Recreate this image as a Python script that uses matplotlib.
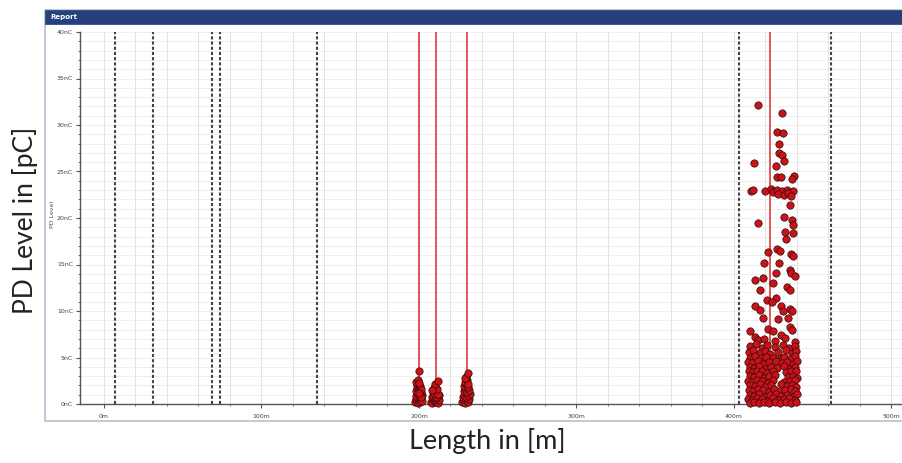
import matplotlib
matplotlib.use("Agg")
import matplotlib.pyplot as plt
from matplotlib.patches import Rectangle
from matplotlib.ticker import MultipleLocator, FixedLocator

# ---------------- data ----------------
x_ticks = [0, 100, 200, 300, 400, 500]
x_tick_labels = ["0m", "100m", "200m", "300m", "400m", "500m"]
y_ticks = [0, 5, 10, 15, 20, 25, 30, 35, 40]
y_tick_labels = ["0nC", "5nC", "10nC", "15nC", "20nC", "25nC", "30nC", "35nC", "40nC"]

joint_positions = [7, 31, 68.5, 73.5, 135, 403, 461.5]       # dashed black lines
pd_sources = [200.3, 210.6, 230.6, 423.2]                    # red solid lines

# cluster near 200 m
c1_x = [197.6, 198.3, 199.1, 200.0, 200.8, 201.6, 198.0, 199.4, 200.5, 201.9,
        197.9, 198.8, 199.8, 201.2, 202.2, 198.5, 199.6, 200.9, 201.5, 198.2,
        199.2, 200.3, 201.0, 199.9, 200.1]
c1_y = [0.2, 0.5, 0.1, 0.4, 0.2, 0.6, 0.9, 1.1, 0.8, 1.0,
        1.4, 1.7, 1.5, 1.3, 0.3, 2.0, 2.2, 1.9, 1.6, 2.4,
        2.6, 2.3, 0.7, 1.2, 3.5]
# cluster near 210 m
c2_x = [207.5, 208.4, 209.3, 210.2, 211.1, 212.0, 212.8, 208.0, 209.0, 210.6,
        211.7, 212.5, 208.7, 209.8, 211.0, 212.2, 209.4, 210.4, 211.6, 210.0,
        211.9, 208.2]
c2_y = [0.2, 0.1, 0.4, 0.2, 0.3, 0.1, 0.4, 0.7, 0.9, 0.6,
        0.8, 1.0, 1.3, 1.2, 1.4, 1.1, 1.7, 1.9, 1.6, 2.1,
        2.5, 1.5]
# cluster near 230 m
c3_x = [227.6, 228.5, 229.4, 230.3, 231.2, 232.1, 227.9, 228.9, 230.0, 231.0,
        232.3, 228.3, 229.2, 230.5, 231.6, 228.8, 229.8, 231.1, 229.5, 230.6,
        231.3, 230.1, 229.0, 230.9]
c3_y = [0.2, 0.4, 0.1, 0.3, 0.2, 0.5, 0.8, 1.0, 0.7, 0.9,
        1.1, 1.4, 1.6, 1.3, 1.5, 1.9, 2.1, 1.8, 2.4, 2.6,
        2.2, 2.9, 2.8, 3.3]
# main cluster near 420 m
c4_x = [415.0, 430.3, 427.5, 431.3, 428.3, 428.9, 430.4, 412.9, 432.0, 427.0,
        427.5, 429.6, 438.0, 436.6, 410.6, 412.0, 419.7, 423.5, 425.0, 427.1,
        430.3, 433.4, 435.5, 437.6, 428.2, 431.8, 434.2, 436.0, 435.6, 431.6,
        415.0, 436.6, 437.2, 432.4, 437.2, 433.0, 421.8, 427.5, 429.2, 436.0,
        437.2, 419.2, 428.6, 435.6, 436.4, 426.7, 438.7, 413.3, 418.6, 424.5,
        416.5, 433.4, 435.6, 426.7, 421.0, 424.1, 413.3, 416.5, 429.9, 431.2,
        435.7, 436.6, 418.6, 428.1, 434.5, 421.8, 424.5, 435.6, 436.6, 429.6,
        410.2, 413.3, 415.2, 419.0, 426.0, 432.6, 438.9,
        410.5, 414.0, 418.0, 421.0, 426.0, 431.0, 435.0, 438.5,
        409.5, 412.0, 416.5, 419.5, 423.0, 428.0, 433.0, 437.0, 439.5,
        410.0, 413.5, 417.0, 420.5, 424.5, 429.5, 432.0, 436.0, 439.0,
        409.0, 411.5, 415.0, 418.5, 422.0, 426.5, 430.5, 434.0, 437.5, 440.0,
        410.5, 413.0, 416.0, 419.5, 423.5, 427.5, 431.5, 435.5, 438.5,
        409.5, 412.0, 414.5, 417.5, 421.0, 424.5, 433.0, 436.5, 439.5,
        410.0, 413.0, 416.0, 419.0, 422.5, 426.0, 434.5, 437.5, 440.0,
        409.0, 411.5, 414.5, 418.0, 421.5, 425.0, 432.0, 435.5, 438.5,
        410.5, 413.5, 416.5, 420.0, 423.5, 430.0, 433.5, 437.0, 439.5,
        409.5, 412.0, 415.0, 418.5, 422.0, 425.5, 429.0, 432.5, 436.0, 439.0,
        410.0, 413.0, 416.0, 419.5, 423.0, 426.5, 430.0, 433.5, 437.0, 440.0,
        409.0, 411.5, 414.5, 417.5, 421.0, 424.5, 428.0, 431.5, 435.0, 438.5,
        410.0, 413.0, 416.0, 419.0, 422.5, 426.0, 429.5, 433.0, 436.5, 439.5]
c4_y = [32.2, 31.3, 29.3, 29.1, 28.0, 27.0, 26.8, 25.9, 26.1, 25.6,
        24.4, 24.4, 24.5, 24.2, 22.9, 23.0, 22.9, 23.1, 22.8, 23.0,
        22.9, 23.0, 22.7, 22.9, 22.6, 22.5, 22.7, 22.4, 21.4, 20.1,
        19.5, 19.8, 19.2, 18.5, 18.4, 17.7, 16.3, 16.7, 16.4, 16.1,
        15.9, 15.2, 15.2, 14.4, 14.1, 14.1, 13.8, 13.3, 13.6, 13.0,
        12.3, 12.6, 12.3, 11.4, 11.2, 11.0, 10.5, 10.1, 10.5, 10.0,
        10.2, 10.0, 9.2, 9.1, 9.3, 8.1, 7.9, 8.3, 8.0, 7.4,
        7.9, 7.2, 6.9, 7.0, 6.8, 7.1, 6.7,
        6.2, 6.4, 6.0, 6.3, 6.1, 6.3, 6.0, 6.2,
        5.6, 5.8, 5.5, 5.7, 5.4, 5.6, 5.8, 5.5, 5.7,
        5.0, 5.2, 4.9, 5.1, 5.0, 4.8, 5.1, 4.9, 5.2,
        4.5, 4.4, 4.6, 4.3, 4.5, 4.6, 4.4, 4.5, 4.3, 4.6,
        4.0, 3.9, 4.1, 3.8, 4.0, 3.9, 4.1, 3.8, 4.0,
        3.5, 3.4, 3.6, 3.5, 3.3, 3.6, 3.4, 3.5, 3.6,
        3.0, 2.9, 3.1, 2.8, 3.0, 3.1, 2.9, 3.0, 2.8,
        2.5, 2.4, 2.6, 2.5, 2.3, 2.6, 2.4, 2.5, 2.6,
        2.0, 1.9, 2.1, 1.8, 2.0, 2.1, 1.9, 2.0, 1.8,
        1.5, 1.4, 1.6, 1.5, 1.3, 1.6, 1.4, 1.5, 1.6, 1.4,
        1.0, 0.9, 1.1, 0.8, 1.0, 1.1, 0.9, 1.0, 0.8, 1.1,
        0.5, 0.4, 0.6, 0.5, 0.3, 0.6, 0.4, 0.5, 0.6, 0.4,
        0.1, 0.2, 0.1, 0.2, 0.1, 0.2, 0.1, 0.2, 0.1, 0.2]

# ---------------- figure ----------------
W, H = 902, 463
fig = plt.figure(figsize=(W / 100, H / 100), dpi=100)
fig.patch.set_facecolor("white")

def fx(px):
    return px / W

def fy(py):
    return 1 - py / H

# report panel (drawn below the axes)
fig.patches.append(Rectangle((fx(45), fy(421)), fx(902) - fx(45) + 0.01, fy(10) - fy(421),
                             transform=fig.transFigure, facecolor="white",
                             edgecolor="#b8c0d0", lw=1.2, zorder=-2))
fig.patches.append(Rectangle((fx(45), fy(24)), fx(902) - fx(45) + 0.01, fy(10) - fy(24),
                             transform=fig.transFigure, facecolor="#26407e",
                             edgecolor="#26407e", lw=0.5, zorder=-1))
fig.text(fx(50), fy(17.5), "Report", color="white", fontsize=5, fontweight="bold",
         va="center", ha="left", family="DejaVu Sans")

ax = fig.add_axes([fx(80), fy(404), fx(902) - fx(80), fy(32) - fy(404)])
ax.set_zorder(2)
ax.patch.set_alpha(0.0)
x0 = -15.2
x1 = x0 + (902 - 80) / 1.575
ax.set_xlim(x0, x1)
ax.set_ylim(0, 40)

ax.xaxis.set_major_locator(FixedLocator(x_ticks))
ax.set_xticklabels(x_tick_labels)
ax.xaxis.set_minor_locator(MultipleLocator(20))
ax.yaxis.set_major_locator(FixedLocator(y_ticks))
ax.set_yticklabels(y_tick_labels)
ax.yaxis.set_minor_locator(MultipleLocator(1))

ax.grid(which="minor", axis="x", color="#eadede", lw=0.7)
ax.grid(which="major", axis="x", color="#eadede", lw=0.7)
ax.grid(which="minor", axis="y", color="#ebebeb", lw=0.6)
ax.grid(which="major", axis="y", color="#ebebeb", lw=0.6)
ax.set_axisbelow(True)

for s in ["top", "right"]:
    ax.spines[s].set_visible(False)
ax.spines["left"].set_color("#555555")
ax.spines["bottom"].set_color("#555555")
ax.spines["left"].set_linewidth(1.0)
ax.spines["bottom"].set_linewidth(1.0)
ax.tick_params(axis="both", which="major", labelsize=4.5, colors="#555555",
               length=3, width=0.8, pad=2)
ax.tick_params(axis="both", which="minor", length=1.5, width=0.6, colors="#555555")
ax.tick_params(axis="x", which="major", pad=4)
for lab in ax.get_xticklabels() + ax.get_yticklabels():
    lab.set_color("#444444")

for xp in joint_positions:
    ax.axvline(xp, color="#444444", lw=1.5, ls=(0, (1.5, 1.0)), zorder=2)
for xp in pd_sources:
    ax.axvline(xp, color="#e0393b", lw=1.2, zorder=3)

for xs, ys in [(c1_x, c1_y), (c2_x, c2_y), (c3_x, c3_y), (c4_x, c4_y)]:
    ax.scatter(xs, ys, s=28, c="#cc1219", edgecolors="#2a0a0a", linewidths=0.5,
               zorder=4, clip_on=False)

fig.text(fx(52), fy(214), "PD Level", rotation=90, fontsize=4.5, color="#555555",
         ha="center", va="center")

fig.text(fx(25), fy(220), "PD Level in [pC]", rotation=90, fontsize=19,
         color="#222222", ha="center", va="center", family="Lato")
fig.text(fx(487), fy(441), "Length in [m]", fontsize=19.5, color="#222222",
         ha="center", va="center", family="Lato")

fig.savefig("out.png", dpi=100, facecolor="white")
